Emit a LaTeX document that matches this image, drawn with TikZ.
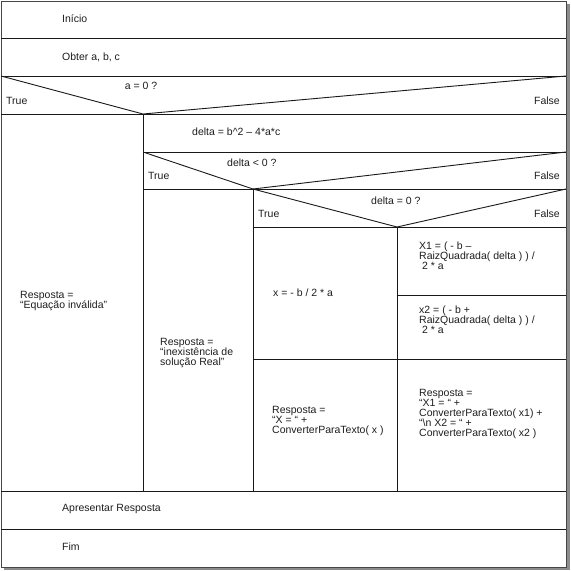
\documentclass[tikz,border=0pt]{standalone}
\usepackage{fontspec}
\setmainfont{Liberation Sans}
\usetikzlibrary{positioning,calc}
\definecolor{xline}{RGB}{25,25,25}
\definecolor{xshade}{RGB}{140,140,140}
\definecolor{xtext}{RGB}{30,30,30}

\begin{document}
\begin{tikzpicture}[x=1pt, y=-1pt,
  rule/.style={draw=xline, line width=0.9pt},
  frame/.style={draw=xline!80, line width=1pt},
  txt/.style={anchor=west, inner sep=0pt, align=left,
              font=\fontsize{10.5}{10}\selectfont, text=xtext},
  flagr/.style={txt, anchor=east}
]
  \useasboundingbox (0,0) rectangle (571,571);
  \fill[white] (0,0) rectangle (571,571);

  % Shadow and frame
  \fill[xshade] (4,4) rectangle (569.5,570);
  \fill[white] (1,1) rectangle (566,567);
  \coordinate (nw) at (1,1);
  \coordinate (se) at (566,567);
  \draw[frame] (nw) rectangle (se);

  % Sequence rows
  \draw[rule] (1,38)  -- (566,38);
  \draw[rule] (1,76)  -- (566,76);
  \draw[rule] (1,114) -- (566,114);
  \draw[rule] (1,491) -- (566,491);
  \draw[rule] (1,529) -- (566,529);

  % Condition a = 0
  \coordinate (apexA) at (143,114);
  \draw[rule] (1,76) -- (apexA) -- (566,76);
  \draw[rule] (apexA) -- (143,491);

  % Condition delta < 0
  \draw[rule] (143,152) -- (566,152);
  \coordinate (apexB) at (253,189);
  \draw[rule] (143,152) -- (apexB) -- (566,152);
  \draw[rule] (143,189) -- (566,189);
  \draw[rule] (apexB) -- (253,491);

  % Condition delta = 0
  \coordinate (apexC) at (397,227);
  \draw[rule] (253,189) -- (apexC) -- (566,189);
  \draw[rule] (253,227) -- (566,227);
  \draw[rule] (apexC) -- (397,491);
  \draw[rule] (397,295) -- (566,295);
  \draw[rule] (253,359) -- (566,359);

  % Texts
  \node[txt] (inicio) at (62,19)  {Início};
  \node[txt] (obter)  at (62,57)  {Obter a, b, c};
  \node[txt, anchor=center] (condA) at (141,86) {a = 0 ?};
  \node[txt]   (trueA)  at (6,101)   {True};
  \node[flagr] (falseA) at (560,101) {False};
  \node[txt] (delta)  at (192,132) {delta = b\^{}2 – 4*a*c};
  \node[txt] (condB)  at (227,163) {delta < 0 ?};
  \node[txt]   (trueB)  at (148,176) {True};
  \node[flagr] (falseB) at (560,176) {False};
  \node[txt] (condC)  at (371,201) {delta = 0 ?};
  \node[txt]   (trueC)  at (258,214) {True};
  \node[flagr] (falseC) at (560,214) {False};

  \node[txt] (invalida) at (20,301)
    {Resposta =\\“Equação inválida”};
  \node[txt] (semreal) at (160,353)
    {Resposta =\\“inexistência de\\solução Real”};
  \node[txt] (xunico) at (273,293) {x = - b / 2 * a};
  \node[txt] (xum) at (419,256)
    {X1 = ( - b –\\RaizQuadrada( delta ) ) /\\\hspace*{3pt}2 * a};
  \node[txt] (xdois) at (419,320)
    {x2 = ( - b +\\RaizQuadrada( delta ) ) /\\\hspace*{3pt}2 * a};
  \node[txt] (respX) at (272,421)
    {Resposta =\\“X = “ +\\ConverterParaTexto( x )};
  \node[txt] (respX12) at (419,414)
    {Resposta =\\“X1 = “ +\\ConverterParaTexto( x1) +\\“\textbackslash n X2 = “ +\\ConverterParaTexto( x2 )};
  \node[txt] (apresentar) at (62,509) {Apresentar Resposta};
  \node[txt] (fim)        at (62,547) {Fim};
\end{tikzpicture}
\end{document}
